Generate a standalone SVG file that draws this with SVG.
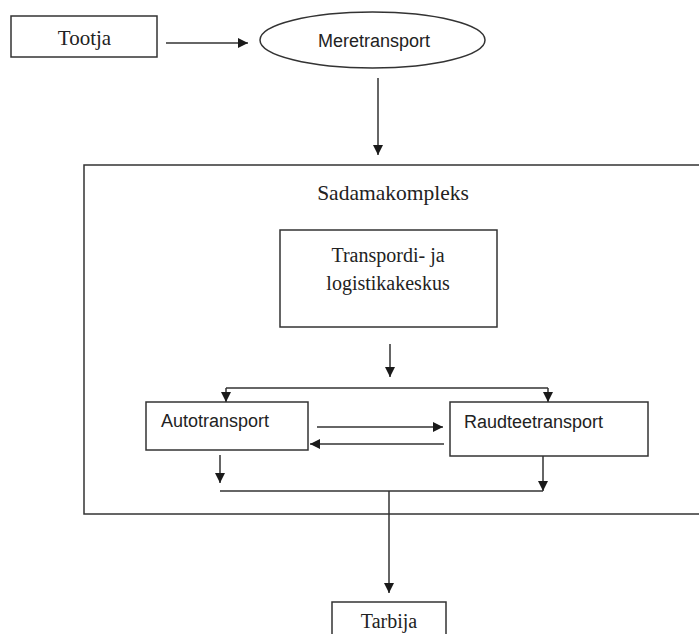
<svg xmlns="http://www.w3.org/2000/svg" width="699" height="634" viewBox="0 0 699 634">
  <defs>
    <marker id="arrow" viewBox="0 0 10 10" refX="10" refY="5" markerWidth="10" markerHeight="10" markerUnits="userSpaceOnUse" orient="auto">
      <path d="M0,0 L10,5 L0,10 z" fill="#1a1a1a"/>
    </marker>
    <style>
      .box { fill: #fff; stroke: #333; stroke-width: 1.5; }
      .line { fill: none; stroke: #333; stroke-width: 1.5; }
      .arr { fill: none; stroke: #333; stroke-width: 1.5; marker-end: url(#arrow); }
      .serif { font-family: "Liberation Serif", "Times New Roman", serif; font-size: 20px; fill: #222; text-anchor: middle; }
      .sans { font-family: "Liberation Sans", Arial, sans-serif; font-size: 18px; fill: #222; }
    </style>
  </defs>

  <rect width="699" height="634" fill="#fff"/>

  <!-- port complex frame (right side runs past the edge) -->
  <g id="sadamakompleks">
    <rect class="box" x="84" y="165" width="620" height="349"/>
    <text class="serif" x="393" y="200" style="font-size:21.5px">Sadamakompleks</text>
  </g>

  <g id="tootja">
    <rect class="box" x="11" y="16" width="146" height="41"/>
    <text class="serif" x="84.5" y="45" style="font-size:21px">Tootja</text>
  </g>

  <g id="meretransport">
    <ellipse class="box" cx="372.5" cy="40" rx="112.5" ry="28"/>
    <text class="sans" x="374" y="47" text-anchor="middle">Meretransport</text>
  </g>

  <g id="logistikakeskus">
    <rect class="box" x="280" y="230" width="217" height="97"/>
    <text class="serif" x="388" y="262">Transpordi- ja</text>
    <text class="serif" x="388" y="290">logistikakeskus</text>
  </g>

  <g id="autotransport">
    <rect class="box" x="146" y="402" width="162" height="48"/>
    <text class="sans" x="161" y="427">Autotransport</text>
  </g>

  <g id="raudteetransport">
    <rect class="box" x="450" y="402" width="198" height="54"/>
    <text class="sans" x="464" y="428">Raudteetransport</text>
  </g>

  <g id="tarbija">
    <rect class="box" x="332" y="602" width="114" height="40"/>
    <text class="serif" x="389" y="628">Tarbija</text>
  </g>

  <g id="connectors">
    <path class="arr" d="M166,43 H248"/>
    <path class="arr" d="M378,78 V155"/>
    <path class="arr" d="M390,344 V377"/>
    <path class="line" d="M226,388 H548"/>
    <path class="arr" d="M226,388 V402"/>
    <path class="arr" d="M548,388 V402"/>
    <path class="arr" d="M317,427 H443"/>
    <path class="arr" d="M444,444 H310"/>
    <path class="arr" d="M220,455 V483"/>
    <path class="arr" d="M543,456 V491"/>
    <path class="line" d="M220,491 H543"/>
    <path class="arr" d="M389,491 V593"/>
  </g>
</svg>
